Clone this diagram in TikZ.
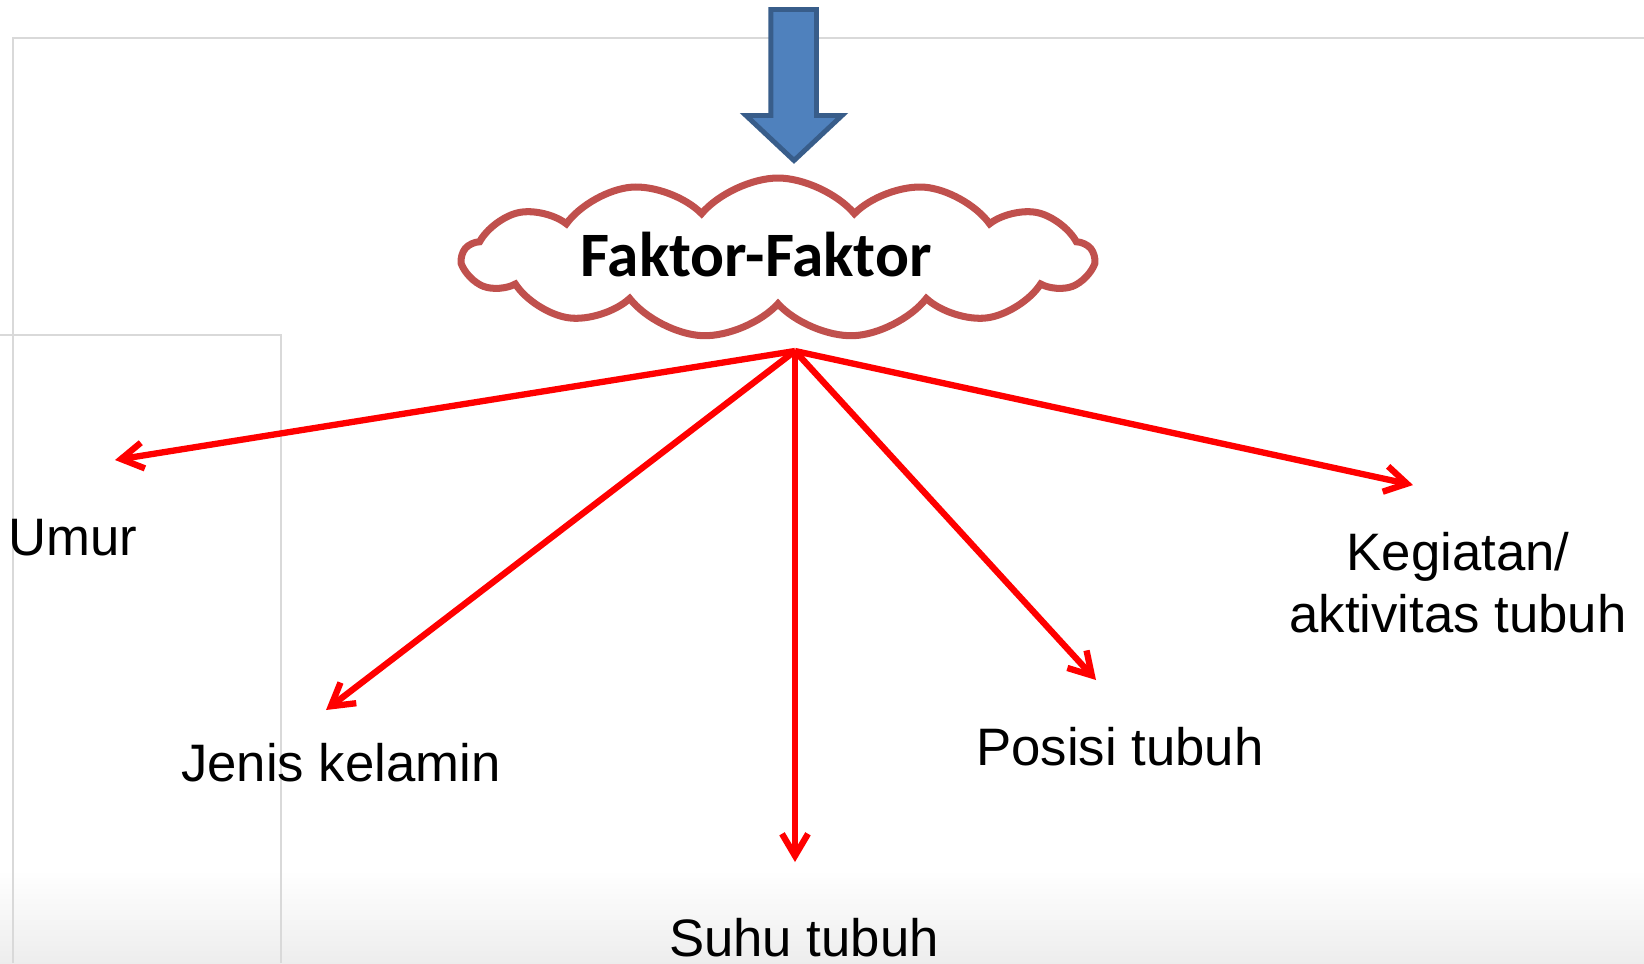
\documentclass[tikz,border=0pt]{standalone}
\usepackage{fontspec}
\setmainfont{Liberation Sans}
\newfontfamily\cloudfont{Carlito}
\usepackage{tikz}
\usetikzlibrary{shapes.symbols, arrows.meta}
\definecolor{frameGray}{HTML}{D9D9D9}
\definecolor{blockBlue}{HTML}{4F81BD}
\definecolor{blockEdge}{HTML}{385D8A}
\definecolor{cloudRed}{HTML}{C0504D}

\begin{document}
\begin{tikzpicture}[
	frame/.style = {draw=frameGray, line width=0.6pt},
	block/.style = {fill=blockBlue, draw=blockEdge, line width=1.4pt, line join=miter},
	faktor/.style = {cloud, cloud puffs=13, cloud puff arc=100, cloud ignores aspect=false, aspect=4,
		draw=cloudRed, line width=2pt, minimum width=6.3cm, minimum height=1.6cm, inner sep=0pt},
	judul/.style = {inner sep=0pt, font=\cloudfont\bfseries\fontsize{18}{20}\selectfont},
	item/.style = {inner sep=0pt, font=\fontsize{15}{17.6}\selectfont},
	branch/.style = {draw=red, line width=1.8pt, -{Straight Barb[length=2.2mm, width=2.6mm]}}]
\useasboundingbox (0,0) rectangle (16.44,-9.63);
\shade[top color=white, bottom color=black!7] (0,-8.7) rectangle (16.44,-9.63);
\draw[frame] (0.13,-9.63) -- (0.13,-0.38) -- (16.44,-0.38);
\draw[frame] (0,-3.35) -- (2.81,-3.35) -- (2.81,-9.63);
\draw[block] (7.708,-0.095) -- (8.165,-0.095) -- (8.165,-1.155) -- (8.42,-1.155)
	-- (7.94,-1.605) -- (7.46,-1.155) -- (7.708,-1.155) -- cycle;
\node[faktor] (faktor) at (7.78,-2.58) {};
\node[judul] (judulFaktor) at (7.56,-2.55) {Faktor-Faktor};
\coordinate (hub) at (7.95,-3.51);
\coordinate (tUmur) at (1.15,-4.60);
\coordinate (tJenis) at (3.26,-7.10);
\coordinate (tSuhu) at (7.95,-8.62);
\coordinate (tPosisi) at (10.96,-6.80);
\coordinate (tKegiatan) at (14.13,-4.85);
\node[item, anchor=base west] (umur) at (0.08,-5.55) {Umur};
\node[item, anchor=base] (jenis) at (3.41,-7.81) {Jenis kelamin};
\node[item, anchor=base] (suhu) at (8.04,-9.56) {Suhu tubuh};
\node[item, anchor=base] (posisi) at (11.20,-7.65) {Posisi tubuh};
\node[item, anchor=north, align=center] (kegiatan) at (14.58,-5.32) {Kegiatan/\\aktivitas tubuh};
\draw[branch] (hub) -- (tUmur);
\draw[branch] (hub) -- (tJenis);
\draw[branch] (hub) -- (tSuhu);
\draw[branch] (hub) -- (tPosisi);
\draw[branch] (hub) -- (tKegiatan);
\end{tikzpicture}
\end{document}
